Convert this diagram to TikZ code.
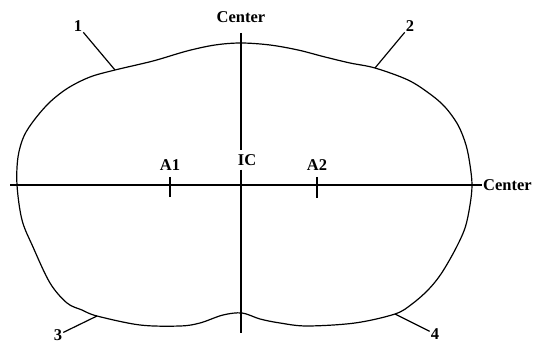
\documentclass[tikz,border=0pt]{standalone}
\usepackage{fontspec}
\setmainfont{Liberation Serif}
\usetikzlibrary{positioning}

\begin{document}
\begin{tikzpicture}[
        x=1pt, y=-1pt,
        lbl/.style={font=\bfseries\fontsize{16.5}{18}\selectfont, inner sep=1pt},
        axis/.style={line width=1.4pt},
        outline/.style={line width=1.2pt, line join=round},
        leader/.style={line width=1.2pt},
        tick/.style={line width=1.3pt},
        node distance=5pt
        ]
        \useasboundingbox (0,0) rectangle (535,344);
        % outline of the section
        \draw[outline] plot[smooth cycle, tension=0.55] coordinates {
            (241,43) (270,45) (298,50) (325,57) (350,63) (375,68) (408,80) (430,94)
            (445,107) (458,125) (466,145) (470,165) (472,185) (470,205) (465,228)
            (455,250) (441,274) (428,290) (412,304) (395,314) (355,323) (307,326)
            (280,323) (260,319) (242,313) (223,315) (200,323) (180,326) (140,325)
            (97,316) (82,310) (67,303) (50,283) (33,247) (22,220) (17,185) (18,157)
            (24,136) (35,119) (50,102) (68,88) (90,77) (115,70) (153,61) (187,51) (215,45)};
        % center lines
        \coordinate (top)   at (241,33);
        \coordinate (bot)   at (241,333);
        \coordinate (left)  at (10,185);
        \node[lbl]                  (c_top)   at (241,17)      {Center};
        \node[lbl, anchor=west]     (c_right) at (482,185)     {Center};
        \node[lbl, inner ysep=4pt]  (l_ic)    at (247,160)     {IC};
        \draw[axis] (top) -- (top |- l_ic.north);
        \draw[axis] (top |- l_ic.south) -- (bot);
        \draw[axis] (left) -- (c_right.west);
        % ticks on the horizontal line
        \coordinate (a_1) at (170,177);
        \coordinate (a_2) at (317,177);
        \draw[tick] (a_1) -- ++(0,20);
        \draw[tick] (a_2) -- ++(0,21);
        \node[lbl]  (l_a1) [above        =of a_1]             {A1};
        \node[lbl]  (l_a2) [above        =of a_2]             {A2};
        % numbered points on the outline
        \coordinate (p_1) at (115,70);
        \coordinate (p_2) at (375,68);
        \coordinate (p_3) at (97,316);
        \coordinate (p_4) at (395,314);
        \node[lbl]  (n_1) at (78,26)   {1};
        \node[lbl]  (n_2) at (410,26)  {2};
        \node[lbl]  (n_3) at (58,335)  {3};
        \node[lbl]  (n_4) at (435,334) {4};
        \draw[leader] (p_1) -- (n_1);
        \draw[leader] (p_2) -- (n_2);
        \draw[leader] (p_3) -- (n_3);
        \draw[leader] (p_4) -- (n_4);
    \end{tikzpicture}
\end{document}
